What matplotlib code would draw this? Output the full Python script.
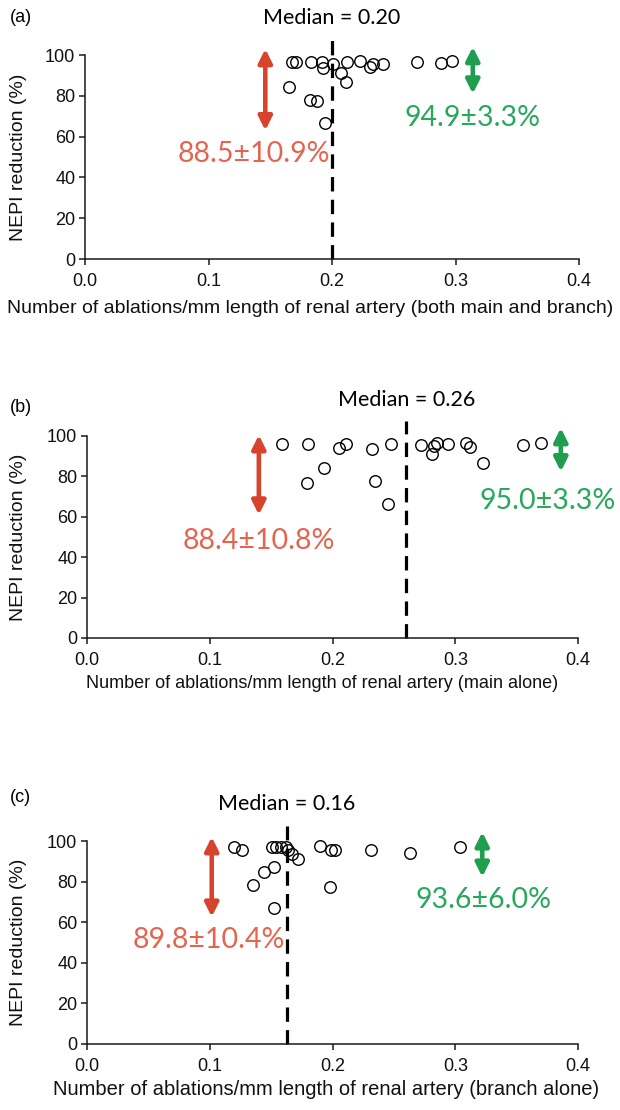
import matplotlib
matplotlib.use("Agg")
import matplotlib.pyplot as plt

# panel (a): both main and branch
x_both = [0.165, 0.168, 0.171, 0.183, 0.192, 0.193, 0.201, 0.207, 0.211, 0.212,
          0.223, 0.231, 0.233, 0.241, 0.182, 0.188, 0.194, 0.269, 0.288, 0.297]
y_both = [84.4, 96.6, 96.6, 96.6, 96.6, 93.8, 95.6, 91.3, 86.9, 96.6,
          97.0, 94.3, 95.6, 95.6, 77.9, 77.4, 66.7, 96.6, 95.9, 97.0]

# panel (b): main alone
x_main = [0.159, 0.180, 0.179, 0.193, 0.205, 0.211, 0.232, 0.235, 0.245, 0.248,
          0.272, 0.281, 0.283, 0.285, 0.294, 0.309, 0.312, 0.323, 0.355, 0.370]
y_main = [96.2, 96.2, 76.9, 84.0, 93.9, 96.2, 93.4, 77.8, 66.2, 96.2,
          95.5, 91.0, 95.0, 96.5, 96.2, 96.5, 94.5, 86.5, 95.5, 96.6]

# panel (c): branch alone
x_branch = [0.120, 0.126, 0.151, 0.154, 0.158, 0.162, 0.164, 0.167, 0.172, 0.152,
            0.144, 0.135, 0.152, 0.190, 0.199, 0.202, 0.198, 0.231, 0.263, 0.304]
y_branch = [97.0, 95.8, 97.0, 97.0, 97.0, 97.0, 95.8, 93.8, 91.3, 87.2,
            84.8, 78.2, 67.2, 97.4, 95.8, 95.8, 77.4, 95.8, 94.1, 96.8]

medians = [0.20, 0.26, 0.163]
median_labels = ["Median = 0.20", "Median = 0.26", "Median = 0.16"]
low_labels = ["88.5\u00b110.9%", "88.4\u00b110.8%", "89.8\u00b110.4%"]
high_labels = ["94.9\u00b13.3%", "95.0\u00b13.3%", "93.6\u00b16.0%"]
panel_tags = ["(a)", "(b)", "(c)"]
xlabels = ["Number of ablations/mm length of renal artery (both main and branch)",
           "Number of ablations/mm length of renal artery (main alone)",
           "Number of ablations/mm length of renal artery (branch alone)"]

RED = "#d8432e"
RED_TXT = "#e4644f"
GREEN = "#1f9e4f"
GREEN_TXT = "#27a85c"
AXC = "#1a1a1a"
ANNOT_FONT = ["Lato", "DejaVu Sans"]

W, H = 620, 1110
# axes boxes in pixels: (left, right, top(y=100), bottom(y=0))
boxes = [(85, 579, 55, 259), (87, 578, 436, 638), (87, 578, 841, 1044)]
tag_pos = [(10, 17), (10, 408), (10, 797)]
xlabel_center = [310, 322, 326]
xlabel_size = [14, 13, 14.5]
xlabel_y = [-0.2, -0.185, -0.175]
red_arrow = [(0.146, 63, 103), (0.140, 61, 100.5), (0.1016, 62.6, 102)]
red_text = [(0.137, 51.5), (0.140, 48), (0.099, 51)]
green_arrow = [(0.314, 81, 104), (0.386, 82.4, 104), (0.322, 82.3, 104.4)]
green_text = [(0.314, 69), (0.375, 68), (0.323, 70.8)]

plt.rcParams['font.family'] = ['Liberation Sans', 'DejaVu Sans']

fig = plt.figure(figsize=(W/100, H/100), dpi=100)
fig.patch.set_facecolor("white")

data = [(x_both, y_both), (x_main, y_main), (x_branch, y_branch)]

for i in range(3):
	l, r, t, b = boxes[i]
	ax = fig.add_axes([l/W, 1 - b/H, (r - l)/W, (b - t)/H])
	xs, ys = data[i]

	ax.plot(xs, ys, linestyle="none", marker="o", markersize=8.3,
		markerfacecolor="none", markeredgecolor="black", markeredgewidth=1.0,
		clip_on=False, zorder=3)

	ax.plot([medians[i], medians[i]], [0, 107.5], color="black", lw=2.3,
		dashes=(4.5, 2.6), clip_on=False, zorder=2)

	ax.set_xlim(0, 0.4)
	ax.set_ylim(0, 100)
	ax.set_xticks([0.0, 0.1, 0.2, 0.3, 0.4])
	ax.set_xticklabels(["0.0", "0.1", "0.2", "0.3", "0.4"])
	ax.set_yticks([0, 20, 40, 60, 80, 100])
	for s in ["top", "right"]:
		ax.spines[s].set_visible(False)
	for s in ["left", "bottom"]:
		ax.spines[s].set_color(AXC)
		ax.spines[s].set_linewidth(1.1)
	ax.tick_params(axis="both", direction="out", length=4, width=1.1,
		color=AXC, labelsize=13, labelcolor="#111111", pad=3)
	ax.tick_params(axis="x", pad=6)

	ax.set_xlabel(xlabels[i], fontsize=xlabel_size[i], color="#111111")
	ax.xaxis.set_label_coords((xlabel_center[i] - l)/(r - l), xlabel_y[i])
	ax.set_ylabel("NEPI reduction (%)", fontsize=14, color="#111111")
	ax.yaxis.set_label_coords(-(l - 27)/(r - l), 0.5)

	# annotations
	ax.text(medians[i], 118, median_labels[i], ha="center", va="center",
		fontsize=15.5, family=ANNOT_FONT, color="black", clip_on=False)
	fig.text(tag_pos[i][0]/W, 1 - tag_pos[i][1]/H, panel_tags[i], ha="left", va="center",
		fontsize=13, color="black")

	xa, y0, y1 = red_arrow[i]
	ax.annotate("", xy=(xa, y0), xytext=(xa, y1),
		arrowprops=dict(arrowstyle="<|-|>", color=RED, lw=3.3, mutation_scale=20,
			shrinkA=0, shrinkB=0), annotation_clip=False)
	ax.text(red_text[i][0], red_text[i][1], low_labels[i], ha="center", va="center",
		fontsize=20.5, family=ANNOT_FONT, color=RED_TXT, clip_on=False)

	xa, y0, y1 = green_arrow[i]
	ax.annotate("", xy=(xa, y0), xytext=(xa, y1),
		arrowprops=dict(arrowstyle="<|-|>", color=GREEN, lw=3.3, mutation_scale=20,
			shrinkA=0, shrinkB=0), annotation_clip=False)
	ax.text(green_text[i][0], green_text[i][1], high_labels[i], ha="center", va="center",
		fontsize=20.5, family=ANNOT_FONT, color=GREEN_TXT, clip_on=False)

fig.savefig("out.png", dpi=100, facecolor="white")
